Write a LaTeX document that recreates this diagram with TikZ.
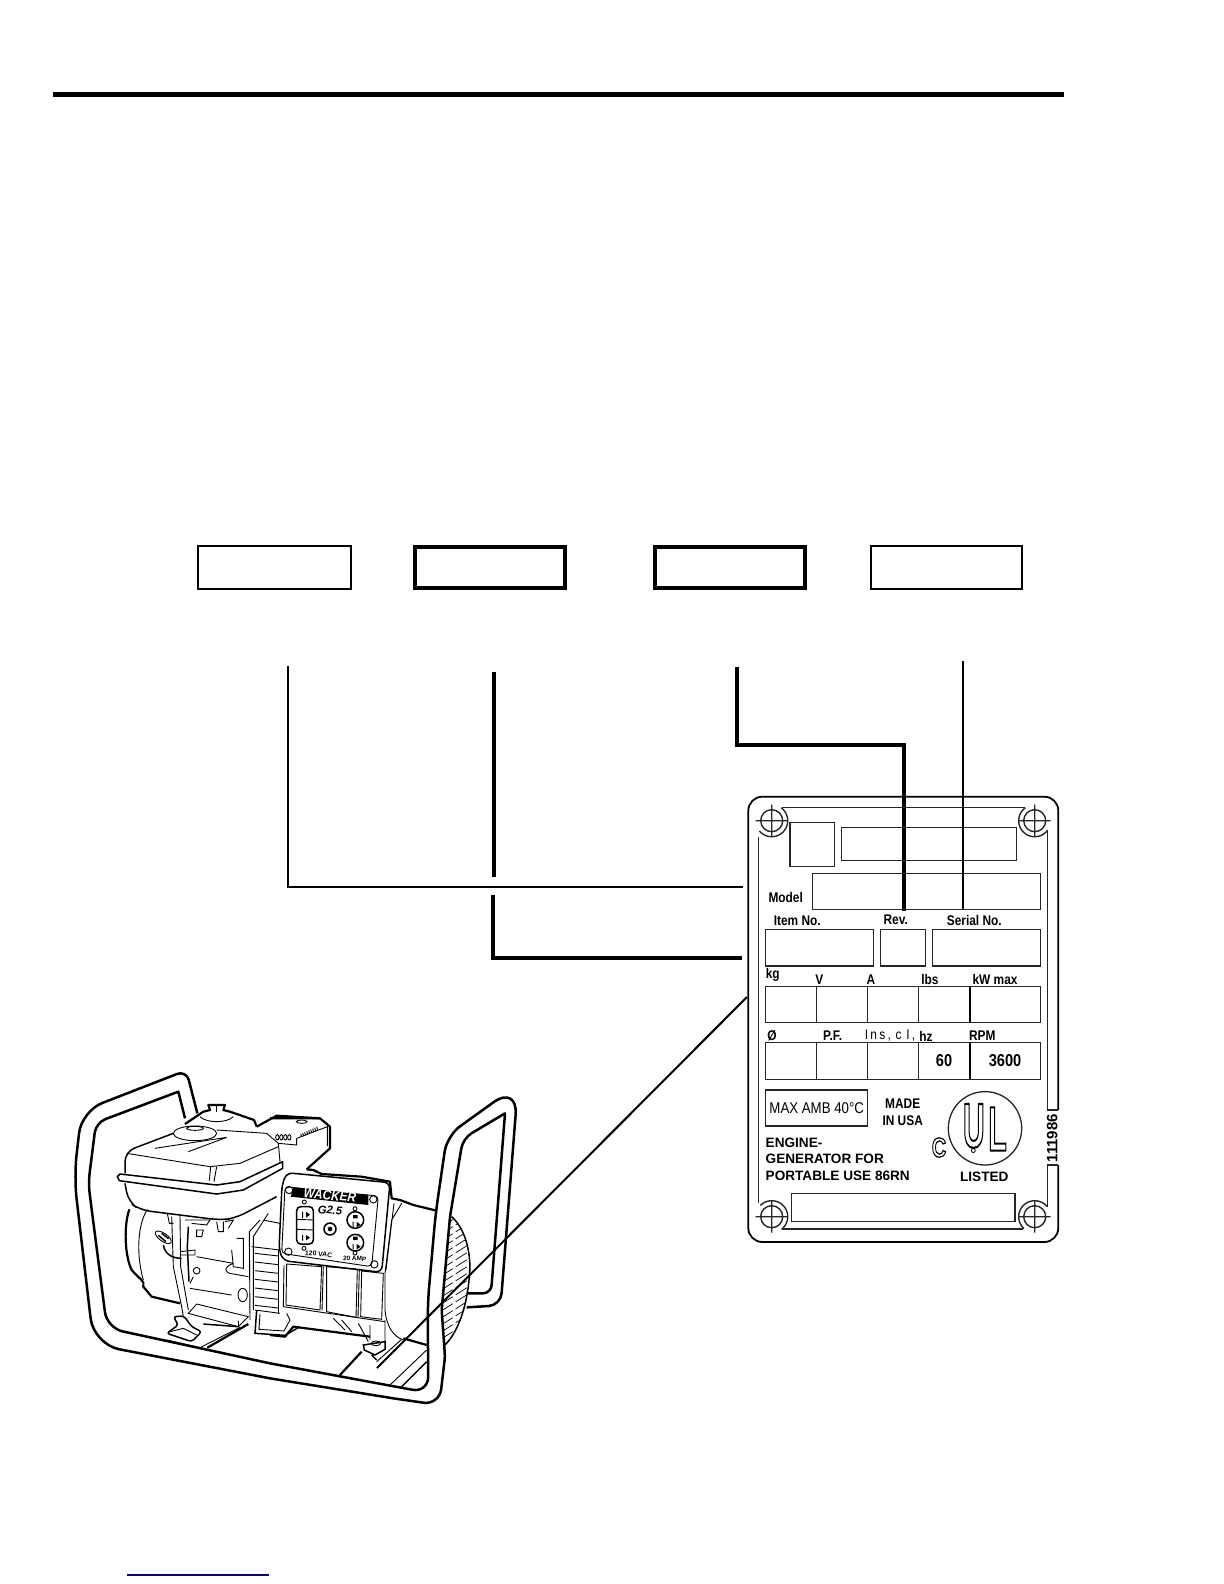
\documentclass[tikz,border=0pt]{standalone}
\usepackage{fontspec}
\setmainfont{Liberation Sans}
\newfontfamily\narrowfont[FakeStretch=0.85]{Liberation Sans}
\usepackage{tikz}
\tikzset{
  every node/.style={inner sep=0pt,outer sep=0pt},
  lightbox/.style={draw,line width=1pt,minimum width=76.5pt,minimum height=21.5pt},
  heavybox/.style={draw,line width=2pt,minimum width=75pt,minimum height=20.5pt},
  leaderthin/.style={line width=1pt},
  leaderthick/.style={line width=2pt},
  plateline/.style={line width=.7pt,draw=black!85},
  platecell/.style={line width=.65pt,draw=black!85},
  platelabel/.style={font=\narrowfont\fontsize{7}{8}\selectfont\bfseries},
  plateword/.style={font=\fontsize{6.8}{8}\selectfont\bfseries},
  ulletter/.style={font=\fontsize{15}{16}\selectfont\bfseries,yscale=2.1},
  gentube/.style={line width=1.25pt,line join=round},
  genedge/.style={line width=1.1pt,line join=round},
  genline/.style={line width=.45pt},
  genmid/.style={line width=.75pt},
}
\newcommand{\holearc}[4]{\draw[plateline] plot[domain=#3:#4,samples=40] ({#1+16*cos(\x)},{#2+16*sin(\x)});}
\begin{document}
\begin{tikzpicture}[x=.5pt,y=-.5pt]
\useasboundingbox (0,0) rectangle (1224,1584);
\fill[white] (0,0) rectangle (1224,1584);
\draw[line width=2.5pt] (53,94.5) -- (1064,94.5);
\draw[line width=.7pt,color=blue!55!black] (127,1575) -- (268.5,1575);

\node[lightbox] (modelbox) at (274.5,567.5) {};
\node[heavybox] (itembox) at (490,567.5) {};
\node[heavybox] (revbox) at (730,567.5) {};
\node[lightbox,minimum width=75.5pt] (serialbox) at (946.5,567.5) {};

% leaders
\coordinate (modeltop) at (288,666);
\coordinate (modelend) at (742.5,887.3);
\coordinate (itemtop) at (494,672);
\coordinate (itemgap) at (494,876.7);
\coordinate (itemlow) at (493,895);
\coordinate (itemend) at (742,958);
\coordinate (revtop) at (737,667);
\coordinate (revknee) at (903.7,745);
\coordinate (revend) at (903.7,911);
\coordinate (serialtop) at (963,661);
\coordinate (serialend) at (963,910);
\coordinate (platepoint) at (747,997);
\coordinate (genpoint) at (377,1368);
\draw[leaderthin] (modeltop) |- (modelend);
\draw[leaderthick] (itemtop) -- (itemgap);
\draw[leaderthick] (itemlow) |- (itemend);
\draw[leaderthick] (revtop) |- (revknee) -- (revend);
\draw[leaderthin] (serialtop) -- (serialend);

% plate
\draw[line width=.9pt,rounded corners=7pt] (748.3,840) -- (748.3,796.7) -- (1058.3,796.7) -- (1058.3,1110);
\draw[line width=.9pt,rounded corners=7pt] (748.3,840) -- (748.3,1242) -- (1058.3,1242) -- (1058.3,1165);
\draw[plateline] (781.7,807.3) -- (1025,807.3);
\draw[plateline] (758.3,836.7) -- (758.3,1203);
\draw[plateline] (781.7,1229) -- (1023,1229);
\draw[plateline] (1058.3,1110) -- (1047.3,1110) -- (1047.3,830);
\draw[plateline] (1058.3,1165) -- (1047.3,1165) -- (1047.3,1206.7);
\draw[plateline] (771.7,820.7) circle [radius=11] (755.7,820.7) -- (787.7,820.7) (771.7,804.7) -- (771.7,836.7);
\draw[plateline] (1034.7,820.7) circle [radius=11] (1018.7,820.7) -- (1050.7,820.7) (1034.7,804.7) -- (1034.7,836.7);
\draw[plateline] (771.7,1216.7) circle [radius=11] (755.7,1216.7) -- (787.7,1216.7) (771.7,1200.7) -- (771.7,1232.7);
\draw[plateline] (1034.7,1216.7) circle [radius=11] (1018.7,1216.7) -- (1050.7,1216.7) (1034.7,1200.7) -- (1034.7,1232.7);
\holearc{771.7}{820.7}{140}{-53}
\holearc{1034.7}{820.7}{234}{36}
\holearc{771.7}{1216.7}{-135}{52}
\holearc{1034.7}{1216.7}{-38}{-228}

\draw[platecell] (790,822.3) rectangle (834.7,866.3);
\draw[platecell] (841.3,827.7) rectangle (1016.3,860.7);
\draw[platecell] (812.7,873.3) rectangle (1040.7,909.3);
\draw[platecell] (765.7,929.7) rectangle (873.3,966);
\draw[platecell] (880.3,929.7) rectangle (925.7,966);
\draw[platecell] (932.7,929.7) rectangle (1040.7,966);
\draw[platecell] (765.7,986.7) rectangle (1040.7,1022.7);
\draw[platecell] (765.7,1042.7) rectangle (1040.7,1079.3);
\draw[platecell] (816.7,986.7) -- (816.7,1022.7) (867.3,986.7) -- (867.3,1022.7) (918.3,986.7) -- (918.3,1022.7);
\draw[platecell] (816.7,1042.7) -- (816.7,1079.3) (867.3,1042.7) -- (867.3,1079.3) (918.3,1042.7) -- (918.3,1079.3);
\draw[line width=1pt] (970,986.7) -- (970,1022.7) (970,1042.7) -- (970,1079.3);
\draw[platecell] (765.7,1090) rectangle (867.7,1126);
\draw[platecell] (791.7,1193.3) rectangle (1015,1221.3);

\node[platelabel] (modeltext) at (785.7,897.3) {Model};
\node[platelabel] (itemtext) at (797.3,920.3) {Item No.};
\node[platelabel] (revtext) at (895.7,920) {Rev.};
\node[platelabel] (serialtext) at (974.3,920) {Serial No.};
\node[platelabel] (kgtext) at (772.7,974.7) {kg};
\node[platelabel] (volttext) at (819.3,979.3) {V};
\node[platelabel] (amptext) at (871,979.3) {A};
\node[platelabel] (lbstext) at (930,979.3) {lbs};
\node[platelabel] (kwtext) at (995,979.3) {kW max};
\node[platelabel] (phasetext) at (772,1036) {Ø};
\node[platelabel] (pftext) at (832.7,1036) {P.F.};
\node[font=\narrowfont\fontsize{7}{8}\selectfont] (instext) at (890,1036) {I\,n\,s\,,\,\,c\,\,I\,,};
\node[platelabel] (hztext) at (926,1036.5) {hz};
\node[platelabel] (rpmtext) at (982.3,1036) {RPM};
\node[platelabel,font=\narrowfont\fontsize{8.6}{10}\selectfont\bfseries] (hzvalue) at (944,1060.7) {60};
\node[platelabel,font=\narrowfont\fontsize{8.6}{10}\selectfont\bfseries] (rpmvalue) at (1005,1060.7) {3600};
\node[font=\narrowfont\fontsize{7.8}{9}\selectfont] (ambtext) at (816.7,1108.3) {MAX AMB 40°C};
\node[platelabel] (madetext) at (902.7,1103.3) {MADE};
\node[platelabel] (usatext) at (902.7,1120.7) {IN USA};
\node[plateword,anchor=west] (enginetext) at (765.7,1142.7) {ENGINE-};
\node[plateword,anchor=west] (generatortext) at (765.7,1159.3) {GENERATOR FOR};
\node[plateword,anchor=west] (portabletext) at (765.7,1176) {PORTABLE USE 86RN};
\node[plateword] (listedtext) at (984.3,1176.7) {LISTED};
\node[font=\fontsize{7.5}{8}\selectfont\bfseries,rotate=90] (parttext) at (1052.3,1138.3) {111986};

\draw[platecell] (985,1128.3) circle [radius=36.7];
\node[ulletter] (ulu) at (973.8,1126) {\special{pdf:code 1 Tr 0.5 w}U\special{pdf:code 0 Tr 0 w}};
\node[ulletter] (ull) at (997.5,1129) {\special{pdf:code 1 Tr 0.5 w}L\special{pdf:code 0 Tr 0 w}};
\node[font=\fontsize{11}{12}\selectfont\bfseries,yscale=1.25,xscale=.9] (ulc) at (939,1147.5) {\special{pdf:code 1 Tr 0.5 w}C\special{pdf:code 0 Tr 0 w}};
\draw[line width=.4pt] (973.3,1150.5) circle [radius=2];

% generator, rear part
\begin{scope}[shift={(270,1070)},scale=1/3]
\begin{scope}
\clip (545,440) .. controls (590,480) and (605,560) .. (598,620) .. controls (590,720) and (560,790) .. (525,825) -- (515,720) -- (540,440) -- cycle;
\foreach \py in {470,491,...,900} \draw[line width=.35pt,dash pattern=on 6.5pt off 1.8pt] (515,\py) -- (610,\py-60);
\end{scope}
\draw[genmid] (545,440) .. controls (590,480) and (605,560) .. (598,620) .. controls (590,720) and (560,790) .. (525,825);
% frame
\draw[gentube] (0,880) -- (350,945) [rounded corners=8pt] -- (475,968) -- (473,700) -- (497,430) -- (531,197) [rounded corners=15pt] -- (744,44) [rounded corners=6pt] -- (692,706) -- (590,712);
\draw[gentube] (0,925) -- (370,985) [rounded corners=8pt] -- (508,1005) [rounded corners=2pt] -- (525,860) -- (515,720) -- (540,440) [rounded corners=5pt] -- (579,205) [sharp corners] -- (705,130) [rounded corners=4pt] -- (663,670) -- (590,670);
% cylinder and rails
\draw[genedge] (110,298) -- (130,300) -- (155,312) -- (275,320) -- (360,335) -- (365,385) -- (390,390) -- (430,405) -- (500,422);
\draw[genline] (372,400) -- (348,600) (395,400) -- (365,450) -- (345,610);
\draw[genline] (345,610) -- (345,720) .. controls (350,770) and (370,800) .. (400,810);
\draw[genedge] (400,805) -- (470,825);
\draw[genedge] (210,915) -- (275,845);
\draw[genline] (395,808) -- (320,875) (360,945) -- (470,840);
\draw[genmid] (395,950) -- (470,875);
% panel
\draw[genmid,rounded corners=3pt] (50,308) -- (360,338) -- (335,607) -- (40,572) -- (27,540) -- (36,345) -- cycle;
\draw[genline,rounded corners=2pt] (45,350) -- (325,378) -- (305,590) -- (35,550) -- cycle;
\fill (70,352) -- (295,375) -- (295,405) -- (62,380) -- cycle;
\node[rotate=-5,yscale=1.15,font=\fontsize{5.9}{6}\selectfont\bfseries\itshape,text=white] (brandtext) at (180,376) {WACKER};
\node[rotate=-5,font=\fontsize{5.6}{6}\selectfont\bfseries\itshape] (sizetext) at (180,421) {G2.5};
\draw[genline] (57,360) circle [radius=11] (310,388) circle [radius=11] (55,545) circle [radius=11] (313,583) circle [radius=11];
\draw[genmid,rounded corners=2pt] (80,410) rectangle (130,522);
\draw[genline] (80,448) -- (130,450) (80,478) -- (130,480);
\draw[genmid] (180,477) circle [radius=18] (256,450) circle [radius=25] (256,518) circle [radius=25];
\fill (180,477) circle [radius=7];
\fill (96,425) rectangle (99,445) (108,425) -- (120,434) -- (108,443) -- cycle;
\fill (96,495) rectangle (99,512) (108,495) -- (120,503) -- (108,511) -- cycle;
\fill (248,455) rectangle (251,472) (260,456) -- (272,464) -- (260,472) -- cycle (249,435) rectangle (263,445);
\fill (248,522) rectangle (251,538) (260,522) -- (272,530) -- (260,538) -- cycle (249,500) rectangle (263,510);
\draw[genline] (103,396) circle [radius=6] (255,416) circle [radius=6] (102,535) circle [radius=6] (255,549) circle [radius=6];
\node[rotate=-5,font=\fontsize{3.4}{4}\selectfont\bfseries] (volttag) at (146,552) {120 VAC};
\node[rotate=-3,font=\fontsize{3.2}{4}\selectfont\bfseries] (amptag) at (254,566) {20 AMP};
% lower boxes
\draw[genline] (50,582) -- (155,590) -- (150,720) -- (48,705) -- cycle (170,590) -- (262,598) -- (258,742) -- (170,725) -- cycle (275,603) -- (340,610) -- (335,748) -- (272,740) -- cycle;
\draw[genline] (160,590) -- (156,722) (268,600) -- (264,742) (42,585) -- (40,710) -- (345,755);
\draw[genedge] (0,795) -- (45,800) -- (70,770) -- (300,800);
\draw[genline] (190,745) -- (225,780) (215,750) -- (245,785) (265,760) -- (295,815) (300,765) -- (300,810) (345,750) -- (345,815);
\draw[genmid] (280,825) -- (345,815) -- (345,838) -- (315,855) -- (283,840) -- cycle (305,855) -- (320,870);
\draw[genline] (318,820) circle [x radius=14,y radius=7];
% fan cover
\draw[genedge] (0,145) -- (150,145) -- (180,170) -- (180,235) -- (110,298);
\draw[genline] (95,155) circle [x radius=16,y radius=5];
\foreach \fx in {92,98,...,145} \draw[genline] (\fx,{192-(\fx-92)*.45}) -- (\fx+3,{201-(\fx-92)*.45});
\draw[genline] (80,205) -- (172,170) -- (172,228);
\draw[genline] (80,205) -- (80,225) -- (25,220);
\foreach \fx in {22,34,46,58} \draw[genline] (\fx,202) circle [x radius=5,y radius=8];
\end{scope}

% generator, engine part
\begin{scope}[shift={(60,1050)},scale=1/3]
\draw[gentube] (412,190) [rounded corners=5pt] -- (379,61) [rounded corners=11pt] -- (65,183) -- (42,380) [rounded corners=13pt] -- (101,883) -- (630,985);
\draw[gentube] (375,205) -- (355,125) [rounded corners=5pt] -- (108,218) -- (85,400) [rounded corners=8pt] -- (141,834) -- (630,940);
% recoil top
\draw[genedge] (590,230) -- (582,210) -- (510,185) -- (490,180) -- (495,165) -- (445,165) -- (450,180) -- (430,185) -- (375,222);
\draw[genedge] (590,230) -- (650,197) -- (780,205);
\draw[genline] (420,200) .. controls (440,220) and (500,220) .. (520,200);
\draw[genline] (470,165) -- (470,185);
% tank
\draw[genmid,rounded corners=5pt] (195,370) -- (195,305) -- (340,250);
\draw[genline] (470,240) -- (620,250) -- (655,280) -- (660,335);
\draw[genline] (405,250) circle [x radius=65,y radius=22];
\draw[genline] (405,235) circle [x radius=25,y radius=6];
\draw[genline] (285,295) -- (500,262) (385,305) -- (500,262);
\draw[genline] (200,310) -- (450,350) -- (540,340) -- (655,290);
\draw[genmid,line join=round] (172,380) -- (180,372) -- (470,405) -- (540,395) -- (668,335) -- (668,355) -- (550,420) -- (470,432) -- (178,392) -- cycle;
\draw[genline] (452,350) -- (448,392) (470,350) -- (462,395);
\draw[genmid,rounded corners=5pt] (195,400) -- (205,455) -- (240,480) -- (480,510) -- (525,505) -- (650,440);
% recoil housing and handle
\draw[genedge] (208,478) .. controls (190,530) and (195,620) .. (215,660) .. controls (240,690) and (255,690) .. (250,710) -- (275,740) -- (360,760);
\draw[genline] (262,478) .. controls (230,530) and (230,620) .. (250,690);
\draw[genline] (310,562) circle [x radius=28,y radius=12,rotate=-35];
\draw[genmid] (295,556) -- (318,575) (305,550) -- (326,566);
\draw[genmid] (310,585) .. controls (315,615) and (340,625) .. (365,625);
\draw[genline] (335,500) -- (340,650) -- (365,770) -- (370,800) (360,495) -- (362,650) -- (385,780) (322,490) -- (328,520) -- (340,520);
\draw[genmid] (385,530) -- (382,590) -- (387,695);
\draw[genline] (375,510) -- (450,510) -- (440,525) -- (395,520) (360,605) -- (405,600) -- (405,615) -- (360,615) (410,540) -- (430,540) -- (425,560) -- (410,560) -- cycle;
\draw[genline] (470,515) -- (475,545) -- (490,545) -- (490,515) (495,515) -- (520,510) -- (505,535);
\draw[genline] (410,662) circle [radius=10];
\draw[genline] (410,620) -- (520,640) (390,715) -- (515,735) (400,680) -- (390,700);
\draw[genline] (520,640) .. controls (490,650) and (490,670) .. (520,672) -- (565,680) (515,600) -- (520,650) -- (550,655) -- (550,565) -- (530,565);
\draw[genline] (548,735) circle [x radius=14,y radius=20];
% fins
\draw[genline] (600,510) -- (568,545) -- (570,810) (625,490) -- (580,560) -- (580,780) (575,590) -- (660,600) (610,510) -- (660,520);
\foreach \fy in {610,636,...,770} \draw[genline] (585,\fy) -- (655,\fy+8);
\draw[genline] (585,780) -- (660,790);
\draw[genline] (655,600) -- (655,790);
% base block
\draw[genline] (385,790) -- (410,762) -- (565,800) -- (535,830) -- cycle;
\draw[genline] (535,830) -- (535,812);
\draw[genmid] (430,822) -- (535,830);
\draw[genedge] (442,893) -- (565,822);
\draw[genline] (420,893) -- (540,832) (320,870) -- (450,900);
\draw[genmid,rounded corners=1.5pt] (340,800) -- (372,798) -- (395,830) -- (425,845) -- (395,875) -- (320,850) -- (355,825) -- cycle;
\draw[genline] (330,845) -- (370,835) -- (410,855);
\draw[genmid] (590,780) -- (585,850) -- (675,856) -- (720,830);
\draw[genline] (600,792) -- (597,838) -- (672,843) -- (690,810) (680,790) -- (690,810);
\end{scope}

\draw[leaderthin] (platepoint) -- (genpoint);
\end{tikzpicture}
\end{document}
